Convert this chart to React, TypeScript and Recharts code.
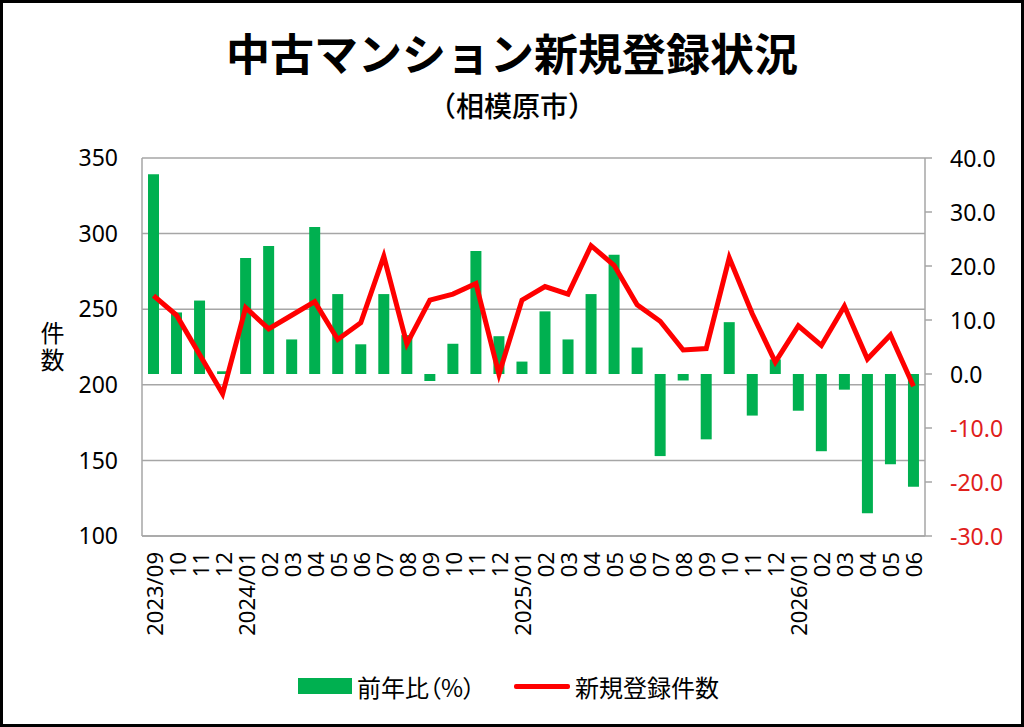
import React from 'react';
import { ComposedChart, Bar, Line, XAxis, YAxis, CartesianGrid } from 'recharts';

// months shown on the x axis (year only on the first and on each January)
const months = [
  '2023/09', '10', '11', '12',
  '2024/01', '02', '03', '04', '05', '06', '07', '08', '09', '10', '11', '12',
  '2025/01', '02', '03', '04', '05', '06', '07', '08', '09', '10', '11', '12',
  '2026/01', '02', '03', '04', '05', '06',
];

// 前年比 (%) - right axis
const yoyPct = [
  37.0, 11.4, 13.6, 0.5,
  21.5, 23.7, 6.4, 27.2, 14.8, 5.5, 14.8, 7.2, -1.3, 5.6, 22.8, 7.0,
  2.3, 11.6, 6.4, 14.8, 22.1, 4.9, -15.2, -1.2, -12.1, 9.6, -7.7, 2.7,
  -6.8, -14.3, -2.9, -25.8, -16.7, -20.9,
];

// 新規登録件数 - left axis
const listings = [
  259, 246, 220, 194,
  251, 237, 246, 255, 230, 241, 285, 227, 256, 260, 267, 207,
  256, 265, 260, 292, 279, 253, 242, 223, 224, 284, 247, 215,
  239, 226, 252, 217, 233, 199,
];

const leftTicks = [100, 150, 200, 250, 300, 350];
const rightTicks = [-30, -20, -10, 0, 10, 20, 30, 40];

const GREEN = '#00b050';
const RED = '#ff0000';
const GRID = '#a6a6a6';
const FONT = '"Noto Sans", "Noto Sans CJK JP", sans-serif';
const JP = '"Noto Sans CJK JP", sans-serif';

const data = months.map((m, i) => ({ month: m, yoy: yoyPct[i], count: listings[i] }));

const MonthTick = (props: any) => {
  const { x, y, payload } = props;
  return (
    <text
      x={x}
      y={y}
      transform={`rotate(-90 ${x} ${y})`}
      textAnchor="end"
      dominantBaseline="central"
      fontSize={22}
      fontFamily={FONT}
      fill="#000"
    >
      {payload.value}
    </text>
  );
};

const RightTick = (props: any) => {
  const { x, y, payload } = props;
  const v = payload.value as number;
  return (
    <text x={x} y={y} textAnchor="start" dominantBaseline="central" fontSize={23} fontFamily={FONT} fill={v < 0 ? '#e0201b' : '#000'}>
      {v.toFixed(1)}
    </text>
  );
};

const App: React.FC = () => {
  return (
    <div
      style={{
        position: 'absolute',
        left: 0,
        top: 0,
        width: 1024,
        height: 727,
        background: '#fff',
        overflow: 'hidden',
      }}
    >
      <ComposedChart
        width={1024}
        height={727}
        data={data}
        margin={{ top: 158, right: 0, bottom: 0, left: 0 }}
      >
        <CartesianGrid yAxisId="left" vertical={false} stroke={GRID} strokeWidth={1.5} />
        <XAxis
          dataKey="month"
          interval={0}
          height={191}
          tickSize={0}
          tickMargin={16}
          tickLine={false}
          axisLine={{ stroke: GRID, strokeWidth: 1.5 }}
          tick={<MonthTick />}
        />
        <YAxis
          yAxisId="left"
          orientation="left"
          domain={[100, 350]}
          ticks={leftTicks}
          width={142}
          tickSize={0}
          tickMargin={24}
          tickLine={false}
          axisLine={{ stroke: GRID, strokeWidth: 1.5 }}
          tick={{ fontSize: 23, fontFamily: FONT, fill: '#000' }}
        />
        <YAxis
          yAxisId="right"
          orientation="right"
          domain={[-30, 40]}
          ticks={rightTicks}
          width={99}
          tickSize={7}
          tickMargin={18}
          tickLine={{ stroke: GRID, strokeWidth: 1.5 }}
          axisLine={{ stroke: GRID, strokeWidth: 1.5 }}
          tick={<RightTick />}
        />
        <Bar yAxisId="right" dataKey="yoy" fill={GREEN} barSize={11} isAnimationActive={false} />
        <Line
          yAxisId="left"
          type="linear"
          dataKey="count"
          stroke={RED}
          strokeWidth={5}
          dot={false}
          activeDot={false}
          isAnimationActive={false}
        />
      </ComposedChart>

      {/* title */}
      <div style={{ position: 'absolute', left: 0, top: 24, width: 1024, textAlign: 'center', fontFamily: JP, fontWeight: 700, fontSize: 44, lineHeight: '56px', color: '#000' }}>
        中古マンション新規登録状況
      </div>
      <div style={{ position: 'absolute', left: 0, top: 87, width: 1024, textAlign: 'center', fontFamily: JP, fontWeight: 500, fontSize: 28, lineHeight: '36px', color: '#000' }}>
        （相模原市）
      </div>

      {/* left axis title, stacked vertically */}
      <div style={{ position: 'absolute', left: 36, top: 321, height: 54, width: 32, writingMode: 'vertical-rl', fontFamily: JP, fontSize: 24, lineHeight: '32px', letterSpacing: 3, color: '#000' }}>
        件数
      </div>

      {/* legend */}
      <div style={{ position: 'absolute', left: 298, top: 668, height: 36, display: 'flex', alignItems: 'center', fontFamily: JP, fontSize: 24, color: '#000' }}>
        <span style={{ display: 'inline-block', width: 54, height: 16, background: GREEN, marginRight: 5 }} />
        <span style={{ display: 'inline-block', width: 121, whiteSpace: 'nowrap', fontFeatureSettings: '"palt"' }}>前年比（%）</span>
        <span style={{ display: 'inline-block', width: 56, height: 5, background: RED, marginLeft: 36, marginRight: 5, borderRadius: 2 }} />
        <span style={{ whiteSpace: 'nowrap' }}>新規登録件数</span>
      </div>

      {/* frame */}
      <div style={{ position: 'absolute', left: 0, top: 0, width: 1024, height: 727, border: '3px solid #000', boxSizing: 'border-box', pointerEvents: 'none' }} />
    </div>
  );
};

export default App;
